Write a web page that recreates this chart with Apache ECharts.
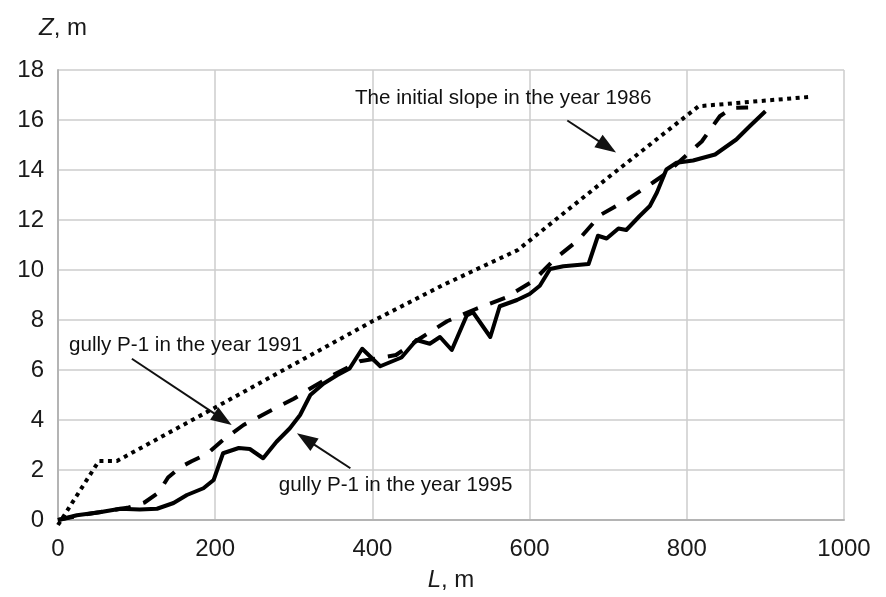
<!DOCTYPE html>
<html>
<head>
<meta charset="utf-8">
<script src="https://cdn.jsdelivr.net/npm/echarts@6/dist/echarts.min.js"></script>
<style>
    html, body { margin: 0; padding: 0; background: #fff; }
    #chart { width: 886px; height: 597px; }
</style>
</head>
<body>
<div id="chart"></div>
<script>
// profile points: [L, m ; Z, m]
var slope1986 = [[0, -0.2], [52, 2.36], [75, 2.36], [200, 4.5], [400, 7.95], [490, 9.4], [585, 10.8],
    [700, 13.7], [815, 16.55], [890, 16.75], [955, 16.92]];

var gully1991 = [[0, 0], [30, 0.2], [60, 0.35], [90, 0.5], [110, 0.7], [128, 1.1], [140, 1.7], [155, 2.1],
    [170, 2.35], [190, 2.65], [210, 3.2], [236, 3.8], [272, 4.4], [300, 4.85], [321, 5.26], [350, 5.8],
    [384, 6.35], [412, 6.5], [430, 6.6], [460, 7.25], [495, 7.95], [530, 8.42], [570, 8.9], [605, 9.57],
    [632, 10.44], [662, 11.2], [690, 12.2], [725, 12.83], [757, 13.5], [775, 13.9], [819, 15.14],
    [842, 16.15], [857, 16.48], [878, 16.5]];

var gully1995 = [[0, 0], [24, 0.19], [53, 0.31], [79, 0.45], [104, 0.42], [126, 0.45], [147, 0.68],
    [164, 1.0], [185, 1.27], [198, 1.6], [210, 2.67], [230, 2.88], [244, 2.84], [261, 2.47], [278, 3.13],
    [295, 3.67], [308, 4.2], [321, 5.0], [338, 5.46], [355, 5.79], [371, 6.06], [387, 6.85], [410, 6.15],
    [437, 6.5], [456, 7.2], [473, 7.05], [486, 7.32], [501, 6.8], [520, 8.18], [528, 8.31], [550, 7.32],
    [562, 8.55], [584, 8.8], [600, 9.04], [613, 9.37], [626, 10.04], [643, 10.15], [675, 10.24],
    [687, 11.37], [698, 11.26], [713, 11.66], [723, 11.6], [740, 12.16], [753, 12.56], [762, 13.1],
    [774, 14.02], [787, 14.29], [808, 14.38], [836, 14.62], [863, 15.22], [880, 15.75], [900, 16.35]];

// annotations (data units)
var notes = [
    {text: 'The initial slope in the year 1986', at: [755, 16.85], align: 'right'},
    {text: 'gully P-1 in the year 1991', at: [14, 6.97], align: 'left'},
    {text: 'gully P-1 in the year 1995', at: [281, 1.39], align: 'left'}
];
var arrows = [
    {from: [648, 15.98], to: [710, 14.7]},
    {from: [94, 6.45], to: [221, 3.8]},
    {from: [372, 2.07], to: [304, 3.47]}
];

var FONT = '"Liberation Sans", Arial, sans-serif';
var myChart = echarts.init(document.getElementById('chart'));

function profile(name, data, dash) {
    return {
        name: name,
        type: 'line',
        data: data,
        symbol: 'none',
        clip: false,
        lineStyle: {color: '#000', width: 4, type: dash, cap: 'butt', join: 'round'}
    };
}

myChart.setOption({
    backgroundColor: '#fff',
    animation: false,
    grid: {left: 58, right: 42, top: 70, bottom: 75},
    xAxis: {
        type: 'value', min: 0, max: 1000, interval: 200,
        name: '{i|L}, m', nameLocation: 'middle', nameGap: 48,
        nameTextStyle: {fontFamily: FONT, fontSize: 24, color: '#1a1a1a', rich: {i: {fontStyle: 'italic', fontFamily: FONT, fontSize: 24, color: '#1a1a1a'}}},
        axisLine: {lineStyle: {color: '#b4b4b4', width: 2}},
        axisTick: {show: false},
        axisLabel: {fontFamily: FONT, fontSize: 24, color: '#1a1a1a', margin: 17, formatter: function (v) { return String(v); }},
        splitLine: {show: true, lineStyle: {color: '#cccccc', width: 1.5}}
    },
    yAxis: {
        type: 'value', min: 0, max: 18, interval: 2,
        name: '{i|Z}, m', nameLocation: 'end', nameGap: 30,
        nameTextStyle: {fontFamily: FONT, fontSize: 24, color: '#1a1a1a', padding: [0, 0, 0, 10], rich: {i: {fontStyle: 'italic', fontFamily: FONT, fontSize: 24, color: '#1a1a1a'}}},
        axisLine: {show: true, lineStyle: {color: '#b4b4b4', width: 2}},
        axisTick: {show: false},
        axisLabel: {fontFamily: FONT, fontSize: 24, color: '#1a1a1a', margin: 14},
        splitLine: {show: true, lineStyle: {color: '#cccccc', width: 1.5}}
    },
    series: [
        profile('1986', slope1986, [4, 4.5]),
        profile('1991', gully1991, [16, 13]),
        profile('1995', gully1995, 'solid')
    ]
});

// text and arrows go on top, placed through the grid's own scale
var graphics = [];
notes.forEach(function (n) {
    var p = myChart.convertToPixel({gridIndex: 0}, n.at);
    graphics.push({
        type: 'text', x: p[0], y: p[1], z: 10,
        style: {text: n.text, fill: '#111', font: '20.6px ' + FONT, align: n.align, verticalAlign: 'middle'}
    });
});
arrows.forEach(function (a) {
    var s = myChart.convertToPixel({gridIndex: 0}, a.from);
    var t = myChart.convertToPixel({gridIndex: 0}, a.to);
    var dx = t[0] - s[0], dy = t[1] - s[1];
    var len = Math.sqrt(dx * dx + dy * dy);
    var ux = dx / len, uy = dy / len;
    var head = 21, half = 7.5;
    var bx = t[0] - ux * head, by = t[1] - uy * head;
    graphics.push({
        type: 'line', z: 10,
        shape: {x1: s[0], y1: s[1], x2: bx + ux * 4, y2: by + uy * 4},
        style: {stroke: '#111', lineWidth: 2}
    });
    graphics.push({
        type: 'polygon', z: 10,
        shape: {points: [[t[0], t[1]], [bx - uy * half, by + ux * half], [bx + uy * half, by - ux * half]]},
        style: {fill: '#111'}
    });
});
myChart.setOption({graphic: graphics});
</script>
</body>
</html>
